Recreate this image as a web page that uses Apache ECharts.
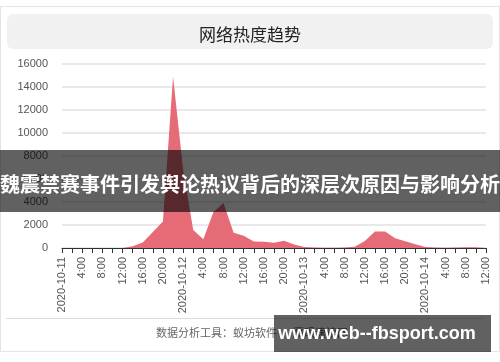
<!DOCTYPE html>
<html>
<head>
<meta charset="utf-8">
<script src="https://cdn.jsdelivr.net/npm/echarts@6/dist/echarts.min.js"></script>
<style>
html,body{margin:0;padding:0;background:#fff;}
#chart{width:500px;height:362px;}
</style>
</head>
<body>
<div id="chart"></div>
<script>
var chartTitle = '网络热度趋势';
var categories = [
  '2020-10-11','2:00','4:00','6:00','8:00','10:00','12:00','14:00','16:00','18:00','20:00','22:00',
  '2020-10-12','2:00','4:00','6:00','8:00','10:00','12:00','14:00','16:00','18:00','20:00','22:00',
  '2020-10-13','2:00','4:00','6:00','8:00','10:00','12:00','14:00','16:00','18:00','20:00','22:00',
  '2020-10-14','2:00','4:00','6:00','8:00','10:00','12:00'
];
var heatValues = [
  0,0,0,0,0,0,0,150,480,1400,2300,14900,
  6800,1560,760,3130,3920,1320,1060,560,550,460,620,300,
  90,40,30,30,40,110,600,1430,1430,840,580,330,
  90,40,30,50,70,60,40
];
var yMin = 0, yMax = 16000, yInterval = 2000;
var footerText = '数据分析工具：蚁坊软件 · 鹰眼速读网';
var bannerText = '魏震禁赛事件引发舆论热议背后的深层次原因与影响分析';
var watermarkText = 'www.web--fbsport.com';

var chart = echarts.init(document.getElementById('chart'), null, {renderer:'canvas'});
var option = {
  animation: false,
  backgroundColor: '#fff',
  title: {
    text: chartTitle,
    left: 'center',
    top: 21,
    textStyle: {fontFamily: 'Noto Sans CJK SC', fontSize: 17, fontWeight: 'normal', color: '#222'}
  },
  grid: {left: 62, right: 14, top: 64, bottom: 114, containLabel: false},
  xAxis: {
    type: 'category',
    data: categories,
    boundaryGap: false,
    axisLine: {lineStyle: {color: '#333', width: 1}},
    axisTick: {show: true, interval: 0, length: 5, lineStyle: {color: '#333'}},
    axisLabel: {
      interval: 1, rotate: 90, margin: 9, padding: [8, 0, 0, 0],
      fontFamily: 'Liberation Sans', fontSize: 11, color: '#555'
    },
    splitLine: {show: false}
  },
  yAxis: {
    type: 'value',
    min: yMin, max: yMax, interval: yInterval,
    axisLine: {show: false},
    axisTick: {show: false},
    axisLabel: {fontFamily: 'Liberation Sans', fontSize: 11, color: '#555', margin: 14,
      formatter: function (v) { return String(v); }},
    splitLine: {lineStyle: {color: '#e2e2e2', width: 1.5}}
  },
  series: [{
    type: 'line',
    data: heatValues,
    symbol: 'none',
    smooth: false,
    lineStyle: {width: 0, color: '#e56b76'},
    itemStyle: {color: '#e56b76'},
    areaStyle: {color: '#e56b76', opacity: 1}
  }],
  graphic: [
    {type: 'rect', z: -10, silent: true, shape: {x: 0.5, y: 6.5, width: 499, height: 345},
      style: {fill: '#fff', stroke: '#e4e4e4', lineWidth: 1}},
    {type: 'rect', z: -9, silent: true, shape: {x: 7, y: 14, width: 486, height: 35, r: 6},
      style: {fill: '#f1f1f1'}},
    {type: 'line', z: -9, silent: true, shape: {x1: 6, y1: 318.5, x2: 484, y2: 318.5},
      style: {stroke: '#dcdcdc', lineWidth: 1}},
    {type: 'text', z: -9, silent: true, left: 156, top: 327,
      style: {text: footerText, fill: '#666', font: '11px "Noto Sans CJK SC"'}},
    {type: 'rect', z: 100, silent: true, shape: {x: 0, y: 150, width: 500, height: 62},
      style: {fill: 'rgba(0,0,0,0.62)'}},
    {type: 'text', z: 101, silent: true, x: 250, y: 184,
      style: {text: bannerText, fill: '#fff', font: 'bold 20px "Noto Sans CJK SC"', textAlign: 'center', textVerticalAlign: 'middle'}},
    {type: 'rect', z: 100, silent: true, shape: {x: 274, y: 315, width: 217, height: 37},
      style: {fill: 'rgba(0,0,0,0.62)'}},
    {type: 'text', z: 101, silent: true, x: 377, y: 334,
      style: {text: watermarkText, fill: '#fff', font: 'bold 18px "Liberation Sans"', textAlign: 'center', textVerticalAlign: 'middle'}}
  ]
};
chart.setOption(option);
</script>
</body>
</html>
